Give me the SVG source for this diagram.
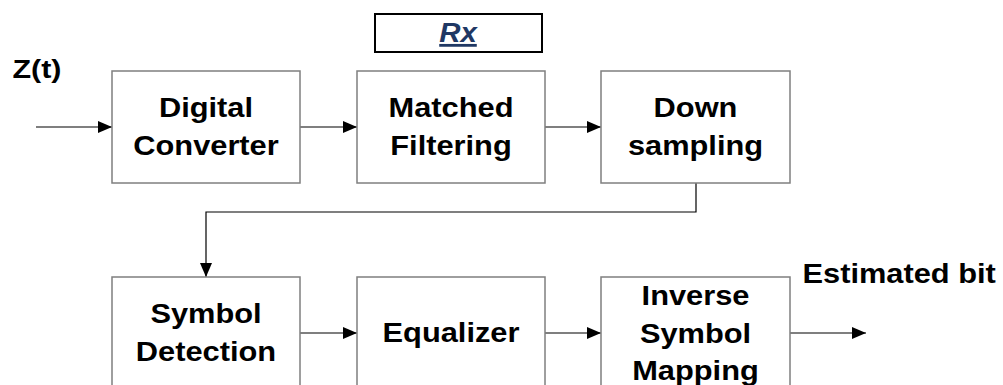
<svg xmlns="http://www.w3.org/2000/svg" width="1003" height="385" viewBox="0 0 1003 385">
<style>
.box{fill:#fff;stroke:#7f7f7f;stroke-width:1.5}
.t{font-family:"Liberation Sans",Arial,sans-serif;font-weight:bold;font-size:28px;fill:#000;text-anchor:middle}
.c{fill:none;stroke:#000;stroke-width:1.2}
</style>
<defs>
<marker id="ah" viewBox="0 0 14 12" refX="14" refY="6" markerWidth="14" markerHeight="12" markerUnits="userSpaceOnUse" orient="auto">
<path d="M0,0 L14,6 L0,12 Z" fill="#000"/>
</marker>
</defs>
<rect width="1003" height="385" fill="#fff"/>
<g id="rx">
<rect x="375" y="14" width="167" height="38" fill="#fff" stroke="#000" stroke-width="2"/>
<text transform="translate(458,42) scale(1.05,1)" class="t" style="font-style:italic;fill:#1f3864;text-decoration:underline">Rx</text>
</g>
<g id="zt"><text x="12.5" y="78" class="t" style="text-anchor:start;font-size:26px" textLength="49" lengthAdjust="spacingAndGlyphs">Z(t)</text></g>
<g id="est"><text transform="translate(802.5,283) scale(1.1,1)" class="t" style="text-anchor:start">Estimated bit</text></g>
<g id="connectors">
<path class="c" d="M36,127 H112" marker-end="url(#ah)"/>
<path class="c" d="M300,127 H357" marker-end="url(#ah)"/>
<path class="c" d="M545,127 H601" marker-end="url(#ah)"/>
<path class="c" d="M696,183 V212 H206 V277" marker-end="url(#ah)"/>
<path class="c" d="M300,333 H357" marker-end="url(#ah)"/>
<path class="c" d="M545,333 H601" marker-end="url(#ah)"/>
<path class="c" d="M790,333 H866" marker-end="url(#ah)"/>
</g>
<g id="digital">
<rect class="box" x="112" y="71" width="188" height="112"/>
<text class="t" transform="translate(206,117) scale(1.1,1)">Digital</text>
<text class="t" transform="translate(206,155) scale(1.1,1)">Converter</text>
</g>
<g id="matched">
<rect class="box" x="357" y="71" width="188" height="112"/>
<text class="t" transform="translate(451,117) scale(1.1,1)">Matched</text>
<text class="t" transform="translate(451,155) scale(1.1,1)">Filtering</text>
</g>
<g id="down">
<rect class="box" x="601" y="71" width="189" height="112"/>
<text class="t" transform="translate(695.5,117) scale(1.1,1)">Down</text>
<text class="t" transform="translate(695.5,155) scale(1.1,1)">sampling</text>
</g>
<g id="symdet">
<rect class="box" x="112" y="277" width="188" height="120"/>
<text class="t" transform="translate(206,322.5) scale(1.1,1)">Symbol</text>
<text class="t" transform="translate(206,361) scale(1.1,1)">Detection</text>
</g>
<g id="eq">
<rect class="box" x="357" y="277" width="188" height="120"/>
<text class="t" transform="translate(451,342) scale(1.1,1)">Equalizer</text>
</g>
<g id="ism">
<rect class="box" x="601" y="277" width="189" height="120"/>
<text class="t" transform="translate(695.5,305) scale(1.1,1)">Inverse</text>
<text class="t" transform="translate(695.5,342.5) scale(1.1,1)">Symbol</text>
<text class="t" transform="translate(695.5,380) scale(1.1,1)">Mapping</text>
</g>
</svg>
